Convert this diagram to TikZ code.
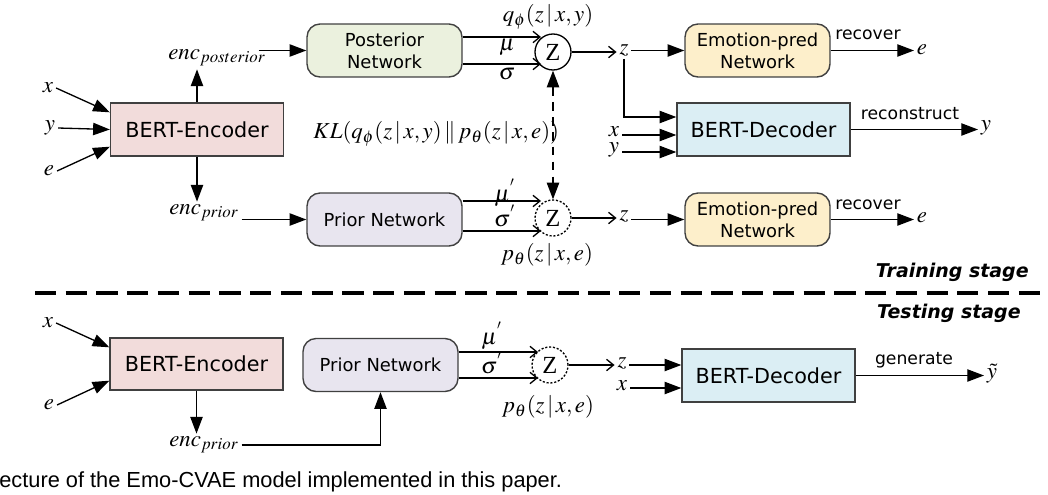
\documentclass[tikz,border=0pt]{standalone}
\usepackage{mathptmx}
\usepackage{fontspec}
\setmainfont{Liberation Serif}
\setsansfont{DejaVu Sans}
\newfontfamily\capfont{Liberation Sans}
\usetikzlibrary{arrows.meta,calc}
\definecolor{encfill}{HTML}{F2DCDB}
\definecolor{postfill}{HTML}{EBF1DE}
\definecolor{priorfill}{HTML}{E8E5EF}
\definecolor{emofill}{HTML}{FDEFCB}
\definecolor{decfill}{HTML}{DBEEF4}
\definecolor{boxline}{HTML}{404040}
\tikzset{
  ln/.style={line width=0.75pt, draw=black},
  fa/.style={ln, -{Triangle[length=9.5pt,width=7pt]}},
  oa/.style={ln, -{Straight Barb[length=4pt,width=6.5pt]}},
  box/.style={draw=boxline, line width=0.8pt, inner sep=0pt, align=center},
  bigbox/.style={box, minimum width=3.46cm, minimum height=1.06cm, font=\sffamily\fontsize{11.8}{14}\selectfont},
  rbox/.style={box, rounded corners=0.26cm, minimum width=3.1cm, minimum height=1.06cm, font=\sffamily\fontsize{10.2}{12.5}\selectfont},
  zc/.style={circle, draw, line width=0.75pt, minimum size=0.72cm, inner sep=0pt, font=\rmfamily\fontsize{14}{14}\selectfont},
  zd/.style={zc, dash pattern=on 1.2pt off 1pt},
  lab/.style={inner sep=1.5pt, font=\fontsize{13}{15}\selectfont},
  wlab/.style={inner sep=1pt, font=\sffamily\fontsize{9.8}{12}\selectfont},
  stage/.style={inner sep=0pt, font=\fontsize{10.8}{13}\selectfont\sffamily\bfseries\itshape},
}
\begin{document}
\begin{tikzpicture}[x=0.02cm,y=-0.02cm]
\useasboundingbox (0,0) rectangle (1048,494);

% ================= Training stage =================
\node[bigbox, fill=encfill] (enc1) at (197,129.5) {BERT-Encoder};
\node[lab] (xin) at (48,88) {$x$};
\node[lab] (yin) at (50,128) {$y$};
\node[lab] (ein) at (49,171) {$e$};
\draw[fa] (xin.east) -- ($(enc1.north west)+(0,10)$);
\draw[fa] (yin.east) -- (enc1.west);
\draw[fa] (ein.east) -- ($(enc1.south west)+(0,-10)$);

\node[lab] (encpost) at (217,58) {$enc_{posterior}$};
\node[lab] (encprior) at (204,213) {$enc_{prior}$};
\draw[fa] (enc1.north) -- (enc1.north |- encpost.south);
\draw[fa] (enc1.south) -- (enc1.south |- encprior.north);

\node[rbox, fill=postfill] (post) at (384.5,50.5) {Posterior\\Network};
\node[rbox, fill=priorfill] (prior1) at (384.5,219.5) {Prior Network};
\draw[fa] ($(encpost.east |- post.west)+(-10,0)$) -- (post.west);
\draw[fa] (encprior.east |- prior1.west) -- (prior1.west);

\node[zc] (Z1) at (553,52) {Z};
\node[zd] (Z2) at (553,218) {Z};
\coordinate (p1t) at ($(Z1.center)+(-12,-15)$);
\coordinate (p1b) at ($(Z1.center)+(-12,12)$);
\coordinate (p2t) at ($(Z2.center)+(-12,-17)$);
\coordinate (p2b) at ($(Z2.center)+(-12,13)$);
\draw[oa] (post.east |- p1t) -- (p1t);
\draw[oa] (post.east |- p1b) -- (p1b);
\draw[oa] (prior1.east |- p2t) -- (p2t);
\draw[oa] (prior1.east |- p2b) -- (p2b);
\node[lab] (q1) at (548,17) {$q_{\phi}(z\,|\,x,y)$};
\node[lab] (mu1) at (507,47) {$\mu$};
\node[lab] (s1) at (507,74) {$\sigma$};
\node[lab] (mu2) at (505,193) {$\mu^{'}$};
\node[lab] (s2) at (505,216) {$\sigma^{'}$};
\node[lab] (pt2) at (547,255) {$p_{\theta}(z\,|\,x,e)$};
\node[lab, anchor=east] (kl) at (562,134) {$KL(q_{\phi}(z\,|\,x,y)\,\|\,p_{\theta}(z\,|\,x,e))$};
\draw[ln, line width=0.9pt, dash pattern=on 5pt off 3.5pt, {Triangle[length=9.5pt,width=7pt]}-{Triangle[length=9.5pt,width=7pt]}] (Z1.south) -- (Z2.north);

\node[lab] (zA) at (624,50) {$z$};
\node[lab] (zB) at (624,216) {$z$};
\draw[oa] (Z1.east) -- (Z1.east -| zA.west);
\draw[oa] (Z2.east) -- (Z2.east -| zB.west);

\node[rbox, fill=emofill, minimum width=2.9cm] (emo1) at (757.5,50.5) {Emotion-pred\\Network};
\node[rbox, fill=emofill, minimum width=2.9cm] (emo2) at (757.5,219.5) {Emotion-pred\\Network};
\draw[fa] (zA.east |- emo1.west) -- (emo1.west);
\draw[fa] (zB.east |- emo2.west) -- (emo2.west);

\node[bigbox, fill=decfill] (dec1) at (763.5,129.5) {BERT-Decoder};
\draw[fa] (zA.south) |- ($(dec1.west)+(0,-12.5)$);
\node[lab] (xD) at (614,132) {$x$};
\node[lab] (yD) at (614,150) {$y$};
\draw[fa] (xD.east |- 0,135) -- (dec1.west |- 0,135);
\draw[fa] (yD.east |- 0,152) -- (dec1.west |- 0,152);

\node[wlab] (rec1) at (868,35) {recover};
\node[wlab] (rec2) at (868,205) {recover};
\node[lab, anchor=west] (eA) at (914,50) {$e$};
\node[lab, anchor=west] (eB) at (914,218) {$e$};
\draw[fa] (emo1.east) -- (emo1.east -| eA.west);
\draw[fa] (emo2.east) -- (emo2.east -| eB.west);
\node[wlab] (rcs) at (910,114) {reconstruct};
\node[lab, anchor=west] (yout) at (978,128) {$y$};
\draw[fa] (dec1.east) -- (dec1.east -| yout.west);

\node[stage, anchor=east] (train) at (1029,272) {Training stage};
\coordinate (sepL) at (35,293);
\coordinate (sepR) at (1048,293);
\draw[line width=2.2pt, dash pattern=on 12pt off 5.5pt] (sepL) -- (sepR);
\node[stage, anchor=east] (test) at (1021,313) {Testing stage};

% ================= Testing stage =================
\node[bigbox, fill=encfill, minimum height=1.04cm] (enc2) at (196.5,364) {BERT-Encoder};
\node[lab] (xin2) at (48,323) {$x$};
\node[lab] (ein2) at (49,405) {$e$};
\draw[fa] (xin2.east) -- ($(enc2.north west)+(0,10)$);
\draw[fa] (ein2.east) -- ($(enc2.south west)+(0,-10)$);
\node[lab] (encprior2) at (204,445) {$enc_{prior}$};
\draw[fa] (enc2.south) -- (enc2.south |- encprior2.north);

\node[rbox, fill=priorfill] (prior2) at (380.5,365) {Prior Network};
\draw[fa] (encprior2.east) -| (prior2.south);

\node[zd] (Z3) at (550,365) {Z};
\coordinate (p3t) at ($(Z3.center)+(-12,-13)$);
\coordinate (p3b) at ($(Z3.center)+(-12,13)$);
\draw[oa] (prior2.east |- p3t) -- (p3t);
\draw[oa] (prior2.east |- p3b) -- (p3b);
\node[lab] (mu3) at (492,336) {$\mu^{'}$};
\node[lab] (s3) at (492,363) {$\sigma^{'}$};
\node[lab] (pt3) at (548,407) {$p_{\theta}(z\,|\,x,e)$};

\node[lab] (zC) at (622,363) {$z$};
\node[lab] (xC) at (622,386) {$x$};
\draw[oa] (Z3.east) -- (Z3.east -| zC.west);
\node[bigbox, fill=decfill] (dec2) at (768.5,375.5) {BERT-Decoder};
\draw[fa] (zC.east |- 0,365) -- (dec2.west |- 0,365);
\draw[fa] (xC.east |- 0,388) -- (dec2.west |- 0,388);
\node[wlab] (gen) at (914,360) {generate};
\node[lab, anchor=west] (ytil) at (984,374) {$\tilde{y}$};
\draw[fa] (dec2.east) -- (dec2.east -| ytil.west);

\node[anchor=west, inner sep=0pt, font=\capfont\fontsize{12.4}{14}\selectfont] (cap) at (-1,482) {ecture of the Emo-CVAE model implemented in this paper.};
\end{tikzpicture}
\end{document}
